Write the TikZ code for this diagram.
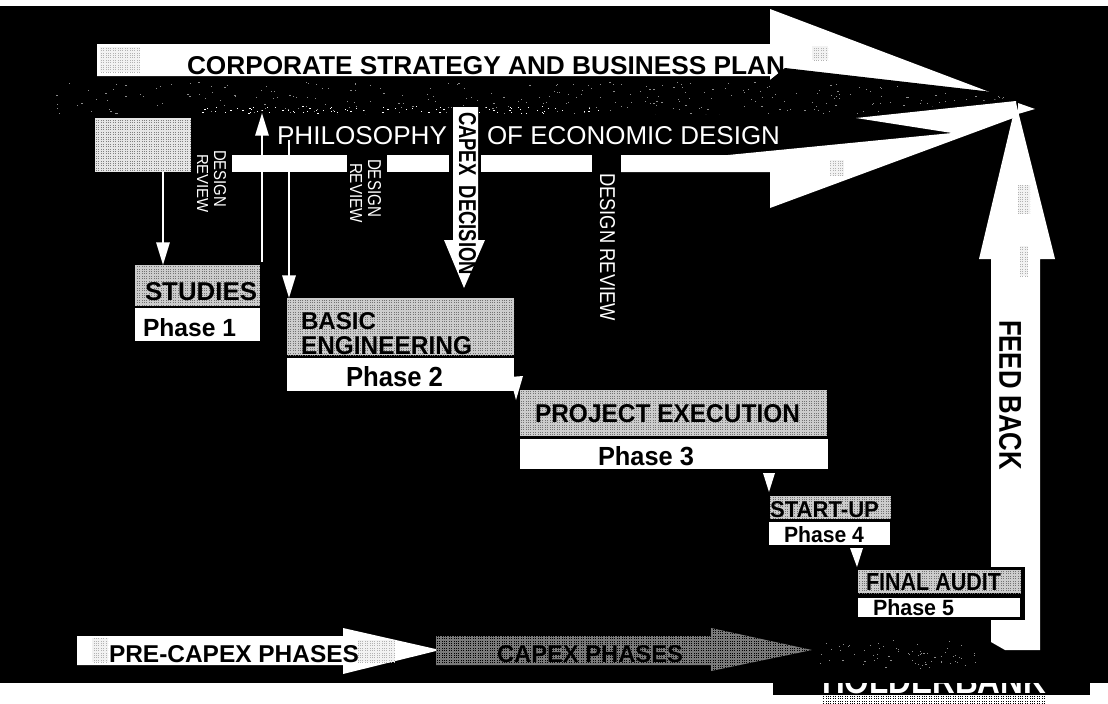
\documentclass[tikz,border=0pt]{standalone}
\usepackage{fontspec}
\usepackage{graphicx}
\setmainfont{Liberation Sans}
\usetikzlibrary{arrows.meta,patterns}
\newlength{\pxu}\setlength{\pxu}{0.75pt}
\newcommand{\fittext}[3]{\resizebox{#1\pxu}{#2\pxu}{#3}}
\pgfdeclarepatternformonly{htone}{\pgfqpoint{-0.2pt}{-0.2pt}}{\pgfqpoint{2pt}{2pt}}{\pgfqpoint{1.8pt}{1.8pt}}{%
  \pgfpathrectangle{\pgfqpoint{0pt}{0pt}}{\pgfqpoint{0.8pt}{0.8pt}}\pgfusepath{fill}}
\tikzset{
  x=0.75pt,y=-0.75pt,
  solidwhite/.style={fill=white,draw=none},
  shade box/.style={fill=black!20,postaction={pattern=htone,pattern color=black!55}},
  pale box/.style={fill=black!10,postaction={pattern=htone,pattern color=black!50}},
  dark shade/.style={fill=black!52,postaction={pattern=htone,pattern color=black}},
  soft patch/.style={fill=black!5,postaction={pattern=htone,pattern color=black!30}},
  panel/.style={draw=none,inner sep=0pt,outer sep=0pt,anchor=north west},
  txt/.style={inner sep=0pt,outer sep=0pt,anchor=south west,font=\bfseries,text=black},
  wtxt/.style={inner sep=0pt,outer sep=0pt,anchor=south west,text=white},
  downtxt/.style={rotate=-90},
  thinlink/.style={draw=white,line width=1.5pt,-{Triangle[width=10pt,length=17pt,fill=white]}},
  wedge/.style={fill=white,draw=none},
}
\begin{document}
\begin{tikzpicture}
\useasboundingbox (0,0) rectangle (1108,704);
\fill[white] (0,0) rectangle (1108,704);
% logo, whose letters stand below the black field
\fill[black] (773,680) rectangle (1090,695);
\fill[pattern=htone,pattern color=black] (822,695) rectangle (1046,703);
\begin{scope}
  \clip (773,683) rectangle (1090,695);
  \node[wtxt,font=\bfseries] (logo) at (822,694) {\fittext{224}{25}{HOLDERBANK}};
\end{scope}
% field
\fill[black] (0,6) rectangle (1108,683);

% corporate strategy arrow
\fill[solidwhite] (97,44) -- (770,44) -- (770,9) -- (1000,96) -- (770,96) -- (770,76) -- (97,76) -- cycle;
\fill[soft patch] (100,47) rectangle (140,72);
\fill[soft patch] (812,46) rectangle (828,60);
\node[txt] (corp) at (187,75) {\fittext{598}{18}{CORPORATE STRATEGY AND BUSINESS PLAN}};

% philosophy arrow
\fill[solidwhite] (232,155) rectangle (347,172);
\fill[solidwhite] (387,155) rectangle (449,172);
\fill[solidwhite] (481,155) rectangle (592,172);
\fill[solidwhite] (621,155) -- (728,155) -- (952,133) -- (856,118) -- (1016,101) -- (1016,117) -- (770,208) -- (770,172) -- (621,172) -- cycle;
\fill[solidwhite] (1018,103) -- (1035,109) -- (1018,114) -- cycle;
\fill[soft patch] (830,160) rectangle (844,176);
\node[wtxt] (phil) at (277,145) {\fittext{170}{18}{PHILOSOPHY}};
\node[wtxt] (econ) at (487,145) {\fittext{293}{18}{OF ECONOMIC DESIGN}};

% dark plan arrow with sparse specks
\begin{scope}
  \clip (0,80) -- (770,80) -- (785,68) -- (1027,96) -- (770,124) -- (770,114) -- (0,114) -- cycle;
  \fill[black] (0,60) rectangle (1040,130);
  \pgfmathsetseed{417}
  \foreach \k in {1,...,300}{
    \pgfmathsetmacro{\sx}{45+975*rnd}
    \pgfmathsetmacro{\sy}{82+32*rnd}
    \fill[black!45] (\sx,\sy) rectangle ++(1.2,1);
  }
  \foreach \k in {1,...,90}{
    \pgfmathsetmacro{\sx}{200+400*rnd}
    \pgfmathsetmacro{\sy}{106+7*rnd}
    \fill[white] (\sx,\sy) rectangle ++(1.2,1);
  }
\end{scope}

% feed back arrow
\fill[solidwhite] (1016,103) -- (1055,259) -- (1040,259) -- (1040,650) -- (1005,650) -- (991,642) -- (991,259) -- (979,259) -- cycle;
\fill[soft patch] (1018,185) rectangle (1030,214);
\fill[soft patch] (1020,246) rectangle (1028,276);
\node[txt,downtxt] (feed) at (999,320) {\fittext{150}{22}{FEED BACK}};

% review panel
\node[panel,pale box,minimum width=96*0.75pt,minimum height=54*0.75pt] (rev) at (95,118) {};
\node[wtxt,downtxt] (d1) at (214,150) {\fittext{57}{12}{DESIGN}};
\node[wtxt,downtxt] (r1) at (197,154) {\fittext{59}{11}{REVIEW}};
\node[wtxt,downtxt] (d2) at (368,159) {\fittext{58}{13}{DESIGN}};
\node[wtxt,downtxt] (r2) at (350,163) {\fittext{60}{12}{REVIEW}};
\node[wtxt,downtxt] (d3) at (600,173) {\fittext{148}{15}{DESIGN REVIEW}};

% capex decision arrow
\fill[solidwhite] (453,107) -- (478,107) -- (478,240) -- (485,240) -- (464,288) -- (444,240) -- (453,240) -- cycle;
\node[txt,downtxt] (cdec) at (459,112) {\fittext{163}{17}{CAPEX\ \ DECISION}};

% phase boxes
\node[panel,shade box,minimum width=125*0.75pt,minimum height=41*0.75pt] (st) at (135,265) {};
\node[panel,fill=white,minimum width=125*0.75pt,minimum height=33*0.75pt] (p1) at (135,308) {};
\node[txt] (stt) at (145,301) {\fittext{112}{18}{STUDIES}};
\node[txt] (p1t) at (143,337) {\fittext{93}{18}{Phase 1}};

\node[panel,shade box,minimum width=227*0.75pt,minimum height=57*0.75pt] (be) at (287,298) {};
\node[panel,fill=white,minimum width=227*0.75pt,minimum height=33*0.75pt] (p2) at (287,358) {};
\node[txt] (bet1) at (301,330) {\fittext{75}{17}{BASIC}};
\node[txt] (bet2) at (301,355) {\fittext{171}{18}{ENGINEERING}};
\node[txt] (p2t) at (346,387) {\fittext{97}{20}{Phase 2}};

\node[panel,shade box,minimum width=307*0.75pt,minimum height=46*0.75pt] (pe) at (520,390) {};
\node[panel,fill=white,minimum width=308*0.75pt,minimum height=30*0.75pt] (p3) at (520,439) {};
\node[txt] (pet) at (535,423) {\fittext{265}{18}{PROJECT EXECUTION}};
\node[txt] (p3t) at (598,466) {\fittext{96}{19}{Phase 3}};

\node[panel,shade box,minimum width=121*0.75pt,minimum height=23*0.75pt] (su) at (770,496) {};
\node[panel,fill=white,minimum width=121*0.75pt,minimum height=23*0.75pt] (p4) at (769,522) {};
\node[txt] (sut) at (770,518) {\fittext{109}{16}{START-UP}};
\node[txt] (p4t) at (784,543) {\fittext{80}{16}{Phase 4}};

\fill[black] (856,567) rectangle (1025,620);
\node[panel,shade box,minimum width=163*0.75pt,minimum height=23*0.75pt] (fa) at (858,570) {};
\node[panel,fill=white,minimum width=162*0.75pt,minimum height=19*0.75pt] (p5) at (858,598) {};
\node[txt] (fat) at (866,591) {\fittext{135}{17}{FINAL AUDIT}};
\node[txt] (p5t) at (873,616) {\fittext{81}{16}{Phase 5}};

% thin connectors
\coordinate (upend) at (262,113);
\coordinate (upstart) at (262,262);
\coordinate (philfoot) at (289,140);
\draw[thinlink] (rev.south -| 163,0) -- (st.north -| 163,0);
\draw[thinlink] (upstart) -- (upend);
\draw[thinlink] (philfoot) -- (be.north -| 289,0);

% step wedges between phases
\fill[wedge] (510,377) -- (523,376) -- (516,400) -- cycle;
\fill[wedge] (763,473) -- (775,473) -- (769,492) -- cycle;
\fill[wedge] (850,548) -- (863,548) -- (857,567) -- cycle;

% bottom arrows
\fill[solidwhite] (77,636) -- (343,636) -- (343,628) -- (440,650) -- (343,674) -- (343,665) -- (77,665) -- cycle;
\fill[soft patch] (358,640) rectangle (395,662);
\fill[soft patch] (92,638) rectangle (108,662);
\node[txt] (pre) at (109,663) {\fittext{250}{17}{PRE-CAPEX PHASES}};
\fill[dark shade] (436,636) -- (711,636) -- (711,628) -- (812,650) -- (711,671) -- (711,665) -- (436,665) -- cycle;
\node[txt] (cap) at (497,663) {\fittext{186}{17}{CAPEX PHASES}};
\pgfmathsetseed{88}
\foreach \k in {1,...,70}{
  \pgfmathsetmacro{\sx}{820+160*rnd}
  \pgfmathsetmacro{\sy}{640+28*rnd}
  \fill[black!45] (\sx,\sy) rectangle ++(1.2,1);
}
\end{tikzpicture}
\end{document}
